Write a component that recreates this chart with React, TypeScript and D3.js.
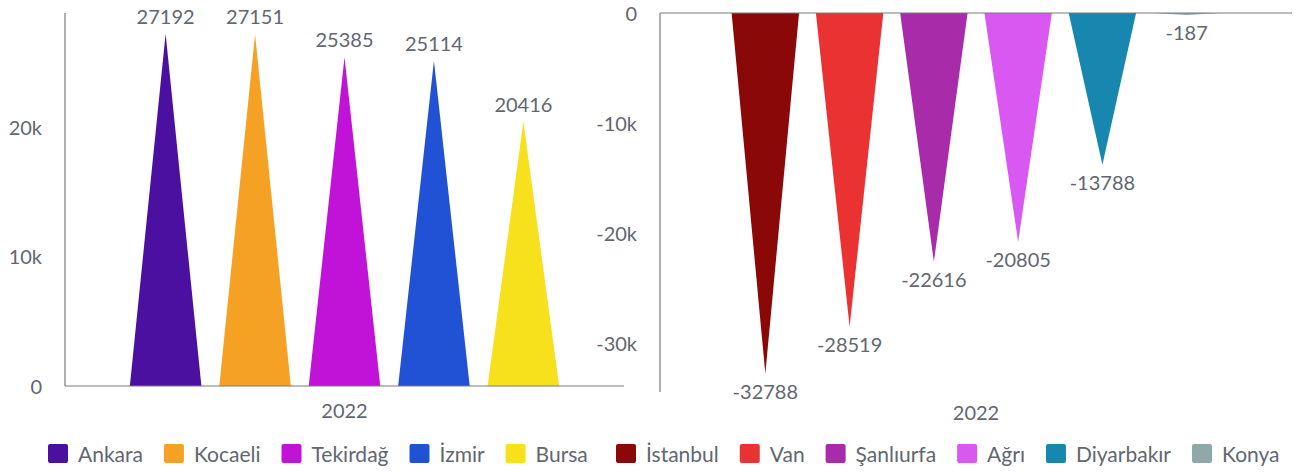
import React, { useEffect, useRef } from "react";
import * as d3 from "d3";

const posNames = ["Ankara", "Kocaeli", "Tekirdağ", "İzmir", "Bursa"];
const posValues = [27192, 27151, 25385, 25114, 20416];
const posColors = ["#4B10A0", "#F4A124", "#C112D8", "#2152D6", "#F7E01C"];
const posTicks = [0, 10000, 20000];

const negNames = ["İstanbul", "Van", "Şanlıurfa", "Ağrı", "Diyarbakır", "Konya"];
const negValues = [-32788, -28519, -22616, -20805, -13788, -187];
const negColors = ["#8A0808", "#EA3232", "#A82BA9", "#DA58F2", "#1787B0", "#8FA8A8"];
const negTicks = [0, -10000, -20000, -30000];

const category = "2022";

const FONT = "Lato, 'Open Sans', sans-serif";
const TXT = "#62666f";
const FS = 20;
const LFS = 21;

export default function App() {
  const ref = useRef<SVGSVGElement | null>(null);

  useEffect(() => {
    const svg = d3.select(ref.current);
    svg.selectAll("*").remove();

    const kfmt = (v: number) => (v === 0 ? "0" : `${v / 1000}k`);

    function drawChart(opts: {
      names: string[];
      values: number[];
      colors: string[];
      ticks: number[];
      x0: number;
      x1: number;
      yTop: number;
      yBot: number;
      domain: [number, number];
      catY: number;
      legendX: number;
    }) {
      const g = svg.append("g");
      const y = d3.scaleLinear().domain(opts.domain).range([opts.yBot, opts.yTop]);
      const w = opts.x1 - opts.x0;
      const x = d3
        .scaleBand<string>()
        .domain(opts.names)
        .range([opts.x0 + w * 0.1, opts.x1 - w * 0.1])
        .paddingInner(0.2)
        .paddingOuter(0.1);

      opts.names.forEach((n, i) => {
        const v = opts.values[i];
        const bx = x(n)!;
        const bw = x.bandwidth();
        const y0 = y(0);
        const yv = y(v);
        g.append("path")
          .attr("d", `M${bx},${y0} L${bx + bw},${y0} L${bx + bw / 2},${yv} Z`)
          .attr("fill", opts.colors[i]);
        const lbl = g
          .append("text")
          .attr("x", bx + bw / 2)
          .attr("text-anchor", "middle")
          .attr("font-family", FONT)
          .attr("font-size", FS)
          .attr("fill", TXT)
          .text(String(v));
        if (v >= 0) lbl.attr("y", yv - 10);
        else lbl.attr("y", yv + 25);
      });

      const zeroY = y(0);
      g.append("line")
        .attr("x1", opts.x0)
        .attr("x2", opts.x0)
        .attr("y1", opts.yTop)
        .attr("y2", opts.yBot)
        .attr("stroke", "#7a7a7a")
        .attr("stroke-width", 1.2);
      g.append("line")
        .attr("x1", opts.x0)
        .attr("x2", opts.x1)
        .attr("y1", zeroY)
        .attr("y2", zeroY)
        .attr("stroke", "#7a7a7a")
        .attr("stroke-width", 1.2);

      opts.ticks.forEach((t) => {
        g.append("text")
          .attr("x", opts.x0 - 23)
          .attr("y", y(t) + 8)
          .attr("text-anchor", "end")
          .attr("font-family", FONT)
          .attr("font-size", FS)
          .attr("fill", TXT)
          .text(kfmt(t));
      });

      g.append("text")
        .attr("x", (opts.x0 + opts.x1) / 2)
        .attr("y", opts.catY)
        .attr("text-anchor", "middle")
        .attr("font-family", FONT)
        .attr("font-size", FS)
        .attr("fill", TXT)
        .text(category);

      let lx = opts.legendX;
      const ly = 444;
      opts.names.forEach((n, i) => {
        g.append("rect")
          .attr("x", lx)
          .attr("y", ly)
          .attr("width", 20)
          .attr("height", 19)
          .attr("rx", 2)
          .attr("fill", opts.colors[i]);
        const t = g
          .append("text")
          .attr("x", lx + 30)
          .attr("y", ly + 18)
          .attr("font-family", FONT)
          .attr("font-size", LFS)
          .attr("fill", TXT)
          .text(n);
        const tw = (t.node() as SVGTextElement).getComputedTextLength();
        lx += 30 + tw + 21;
      });
    }

    drawChart({
      names: posNames,
      values: posValues,
      colors: posColors,
      ticks: posTicks,
      x0: 65,
      x1: 624,
      yTop: 13,
      yBot: 386,
      domain: [0, 28800],
      catY: 418,
      legendX: 48,
    });

    drawChart({
      names: negNames,
      values: negValues,
      colors: negColors,
      ticks: negTicks,
      x0: 660,
      x1: 1292,
      yTop: 13,
      yBot: 392,
      domain: [-34450, 0],
      catY: 420,
      legendX: 616,
    });
  }, []);

  return (
    <svg
      ref={ref}
      width={1310}
      height={472}
      style={{ position: "absolute", left: 0, top: 0, background: "#fff" }}
    />
  );
}
